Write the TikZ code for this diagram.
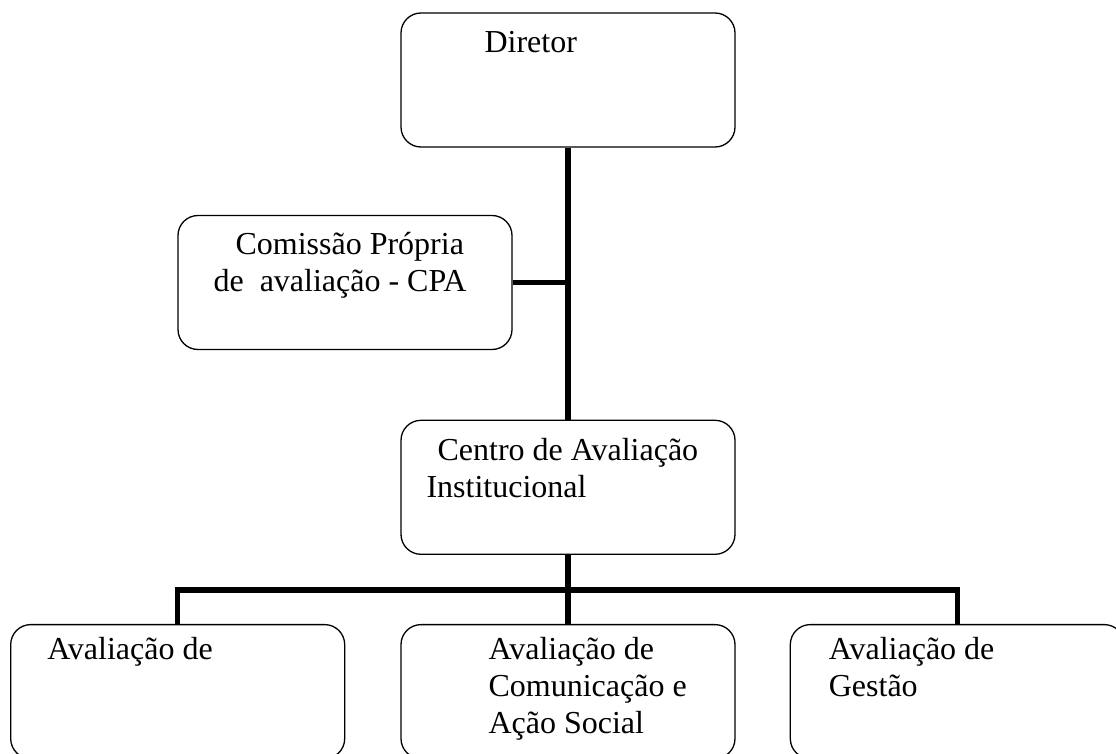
\documentclass[tikz,border=0pt]{standalone}
\usepackage{fontspec}
\setmainfont{Liberation Serif}
\usetikzlibrary{positioning}

\begin{document}
\begin{tikzpicture}[x=1pt,y=-1pt,
  box node/.style={draw,rounded corners=20pt,line width=1.3pt,fill=white,
    minimum width=334pt,minimum height=134pt,inner sep=0pt},
  text node/.style={inner sep=0pt,anchor=base west,align=left,
    font=\rmfamily\fontsize{32}{37}\selectfont},
  link/.style={line width=5.5pt}]

  \clip (0,0) rectangle (1116,754);

  % boxes
  \node[box node] (dir) at (568,80) {};
  \node[box node] (cpa) at (345,282.5) {};
  \node[box node] (cen) [below=272pt of dir] {};
  \node[box node] (av2) [below=69pt of cen] {};
  \node[box node] (av1) [left=55pt of av2] {};
  \node[box node] (av3) [right=54pt of av2] {};

  % texts (base = last line)
  \node[text node] (dirtxt) at ([shift={(84,40)}]dir.north west) {Diretor};
  \node[text node] (cpatxt) at ([shift={(36,77)}]cpa.north west)
    {\hspace*{22pt}Comissão Própria\\de\ \ avaliação - CPA};
  \node[text node] (centxt) at ([shift={(26,78)}]cen.north west)
    {\hspace*{11pt}Centro de Avaliação\\Institucional};
  \node[text node] (av1txt) at ([shift={(37,36)}]av1.north west) {Avaliação de};
  \node[text node] (av2txt) at ([shift={(88,110)}]av2.north west)
    {Avaliação de\\Comunicação e\\Ação Social};
  \node[text node] (av3txt) at ([shift={(39,73)}]av3.north west)
    {Avaliação de\\Gestão};

  % links
  \coordinate (cpaj) at (dir.south |- cpa.east);
  \coordinate (bus) at ([yshift=-35pt]cen.south);
  \path[link]
    (dir) edge (cen)
    (cpa) edge (cpaj)
    (cen) edge (av2);
  \draw[link] (av1.north) |- (bus) -| (av3.north);
\end{tikzpicture}
\end{document}
